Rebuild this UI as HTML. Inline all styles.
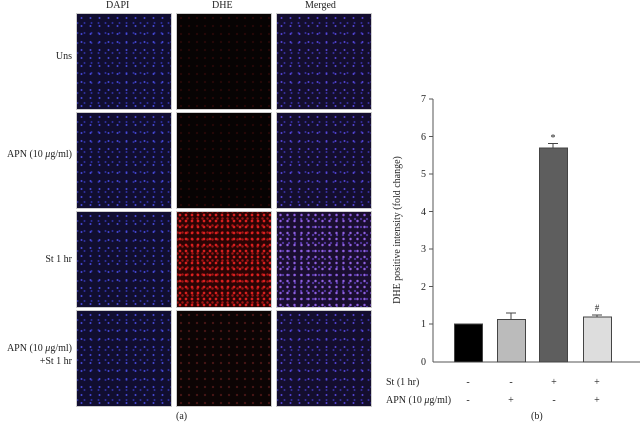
<!DOCTYPE html><html><head><style>
body{margin:0;width:640px;height:426px;background:#fff;position:relative;overflow:hidden;font-family:"Liberation Serif",serif;color:#222}
.p{position:absolute;width:96px;height:97px;box-sizing:border-box;border:1px solid #ccc}
.d{background:radial-gradient(circle,#4a4ce0 0.6px,transparent 1.3px) 0 0/9px 8px,radial-gradient(circle,#3032a8 0.6px,transparent 1.3px) 4px 4px/7px 10px,#110e30}
.h{background:radial-gradient(circle,#2a0808 0.7px,transparent 1.4px) 0 0/8px 8px,#070303}
.hr{background:radial-gradient(circle,#e02020 0.9px,transparent 1.7px) 0 0/6px 6px,radial-gradient(circle,#a01414 0.8px,transparent 1.6px) 3px 3px/5px 7px,#2a0404}
.hm{background:radial-gradient(circle,#501818 0.7px,transparent 1.4px) 0 0/8px 8px,#0c0404}
.m{background:radial-gradient(circle,#5a48e0 0.6px,transparent 1.3px) 0 0/9px 8px,radial-gradient(circle,#3a32a8 0.6px,transparent 1.3px) 4px 4px/7px 10px,#140e2e}
.mr{background:radial-gradient(circle,#9060e0 0.8px,transparent 1.6px) 0 0/7px 6px,radial-gradient(circle,#5a3cb0 0.7px,transparent 1.4px) 3px 3px/6px 8px,#1a0e30}
.t{position:absolute;font-size:10px;white-space:nowrap}
.l{position:absolute;right:568px;text-align:right;font-size:10px;line-height:13px;white-space:nowrap}
</style></head><body>
<div class="t" style="left:106px;top:0">DAPI</div>
<div class="t" style="left:212px;top:0">DHE</div>
<div class="t" style="left:305px;top:0">Merged</div>
<div class="l" style="top:50px">Uns</div>
<div class="l" style="top:148px">APN (10 <i>μ</i>g/ml)</div>
<div class="l" style="top:253px">St 1 hr</div>
<div class="l" style="top:342px">APN (10 <i>μ</i>g/ml)<br>+St 1 hr</div>
<div class="p d" style="left:76px;top:13px"></div><div class="p h" style="left:176px;top:13px"></div><div class="p m" style="left:276px;top:13px"></div>
<div class="p d" style="left:76px;top:112px"></div><div class="p h" style="left:176px;top:112px"></div><div class="p m" style="left:276px;top:112px"></div>
<div class="p d" style="left:76px;top:211px"></div><div class="p hr" style="left:176px;top:211px"></div><div class="p mr" style="left:276px;top:211px"></div>
<div class="p d" style="left:76px;top:310px"></div><div class="p hm" style="left:176px;top:310px"></div><div class="p m" style="left:276px;top:310px"></div>
<div class="t" style="left:176px;top:411px">(a)</div>
<div class="t" style="left:531px;top:411px">(b)</div>
<svg width="640" height="426" style="position:absolute;left:0;top:0" font-family="Liberation Serif" font-size="10" fill="#222">
<g stroke="#555" stroke-width="1">
<line x1="433" y1="99" x2="433" y2="362"/><line x1="433" y1="362" x2="640" y2="362"/>
<line x1="429" y1="99" x2="433" y2="99"/><line x1="429" y1="136.5" x2="433" y2="136.5"/><line x1="429" y1="174" x2="433" y2="174"/><line x1="429" y1="211.5" x2="433" y2="211.5"/><line x1="429" y1="249" x2="433" y2="249"/><line x1="429" y1="286.5" x2="433" y2="286.5"/><line x1="429" y1="324" x2="433" y2="324"/>
</g>
<g text-anchor="end"><text x="426" y="102">7</text><text x="426" y="140">6</text><text x="426" y="177">5</text><text x="426" y="215">4</text><text x="426" y="252">3</text><text x="426" y="290">2</text><text x="426" y="327">1</text><text x="426" y="365">0</text></g>
<text transform="translate(400,230) rotate(-90)" text-anchor="middle">DHE positive intensity (fold change)</text>
<g stroke="#444" stroke-width="1">
<rect x="454.5" y="324" width="28" height="38" fill="#000"/>
<rect x="497.5" y="319.5" width="28" height="42.5" fill="#bbb"/>
<rect x="539.5" y="148" width="28" height="214" fill="#5e5e5e"/>
<rect x="583.5" y="317" width="28" height="45" fill="#ddd"/>
<path d="M511 319.5V313M506 313H516M553 148V143.5M548 143.5H558M597 317V315M592 315H602" fill="none"/>
</g>
<text x="553" y="141" text-anchor="middle">*</text><text x="597" y="311" text-anchor="middle" font-size="9">#</text>
<text x="386" y="385">St (1 hr)</text><text x="386" y="403">APN (10 <tspan font-style="italic">μ</tspan>g/ml)</text>
<g text-anchor="middle"><text x="468" y="385">-</text><text x="511" y="385">-</text><text x="554" y="385">+</text><text x="597" y="385">+</text>
<text x="468" y="403">-</text><text x="511" y="403">+</text><text x="554" y="403">-</text><text x="597" y="403">+</text></g>
</svg>
</body></html>
